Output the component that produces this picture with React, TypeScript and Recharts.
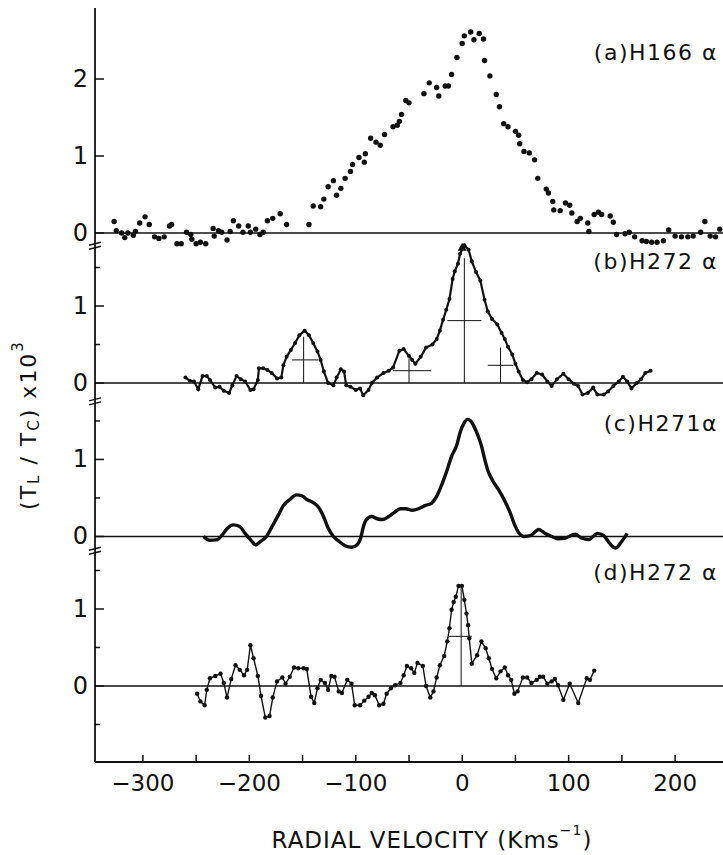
import React from 'react';
import { ComposedChart, Line, Scatter, XAxis, YAxis, ReferenceLine, ReferenceDot } from 'recharts';

const INK = '#111';
const FONT = '"DejaVu Sans", sans-serif';

// [radial velocity (km/s), T_L/T_C x 10^3]
const h166a: [number, number][] = [
  [-327, 0.15], [-325, 0.03], [-320, 0.0], [-317, -0.06], [-314, 0.0], [-309, -0.03], [-307, 0.02],
  [-303, 0.13], [-298, 0.21], [-294, 0.11], [-289, -0.05], [-285, -0.07], [-280, -0.05], [-275, 0.09],
  [-273, 0.11], [-268, -0.14], [-264, -0.14], [-259, 0.01], [-255, -0.02], [-254, -0.08], [-250, -0.14],
  [-246, -0.12], [-241, -0.14], [-234, 0.06], [-233, -0.04], [-229, 0.03], [-226, 0.01], [-221, -0.09],
  [-218, 0.02], [-215, 0.16], [-210, 0.09], [-206, 0.01], [-201, 0.09], [-199, 0.01], [-194, 0.05],
  [-190, -0.02], [-187, 0.01], [-183, 0.16], [-178, 0.19], [-171, 0.25], [-165, 0.11], [-144, 0.11],
  [-140, 0.35], [-133, 0.34], [-130, 0.44], [-126, 0.6], [-121, 0.68], [-118, 0.49], [-114, 0.58],
  [-110, 0.71], [-105, 0.8], [-103, 0.89], [-97, 0.98], [-92, 0.92], [-91, 1.03], [-86, 1.23],
  [-81, 1.18], [-77, 1.14], [-73, 1.28], [-65, 1.38], [-61, 1.4], [-59, 1.45], [-57, 1.54],
  [-53, 1.72], [-50, 1.69], [-36, 1.81], [-31, 1.95], [-24, 1.89], [-22, 1.78], [-16, 1.91],
  [-13, 1.91], [-10, 2.06], [-5, 2.28], [0, 2.46], [2, 2.56], [8, 2.61], [11, 2.51], [16, 2.59],
  [20, 2.52], [21, 2.24], [26, 2.04], [32, 1.8], [35, 1.64], [39, 1.42], [43, 1.38], [50, 1.32],
  [53, 1.27], [54, 1.16], [58, 1.06], [63, 1.04], [68, 0.95], [71, 0.71], [79, 0.57], [81, 0.52],
  [85, 0.41], [86, 0.3], [92, 0.29], [97, 0.39], [101, 0.36], [103, 0.26], [108, 0.15], [111, 0.19],
  [118, 0.13], [119, 0.02], [124, 0.24], [128, 0.27], [131, 0.24], [139, 0.22], [142, 0.14],
  [145, -0.02], [153, -0.01], [157, 0.01], [162, -0.05], [169, -0.1], [173, -0.11], [178, -0.12],
  [183, -0.12], [189, -0.1], [194, 0.04], [200, -0.04], [206, -0.05], [212, -0.05], [217, -0.04],
  [224, 0.01], [228, 0.15], [233, -0.04], [238, -0.05], [242, 0.05],
];

const h272b: [number, number][] = [
  [-260, 0.07], [-256, 0.03], [-252, 0.02], [-248, -0.08], [-244, 0.09], [-240, 0.09], [-237, 0.04],
  [-232, -0.06], [-228, -0.05], [-224, -0.1], [-219, -0.13], [-216, -0.03], [-212, 0.09], [-208, 0.05],
  [-204, 0.02], [-199, -0.09], [-196, -0.08], [-192, 0.04], [-191, 0.19], [-187, 0.19], [-183, 0.17],
  [-179, 0.13], [-174, 0.06], [-170, 0.07], [-168, 0.23], [-165, 0.34], [-161, 0.43], [-157, 0.52],
  [-153, 0.62], [-148, 0.68], [-144, 0.62], [-140, 0.52], [-136, 0.41], [-133, 0.3], [-130, 0.15],
  [-126, 0.0], [-121, -0.03], [-118, 0.07], [-114, 0.18], [-111, 0.15], [-109, -0.03], [-105, -0.05],
  [-100, -0.09], [-96, -0.07], [-93, -0.16], [-88, -0.09], [-85, 0.0], [-80, 0.07], [-74, 0.13],
  [-69, 0.16], [-65, 0.2], [-59, 0.42], [-55, 0.44], [-50, 0.35], [-47, 0.3], [-44, 0.25], [-39, 0.34],
  [-34, 0.46], [-28, 0.5], [-24, 0.57], [-21, 0.68], [-18, 0.82], [-15, 0.95], [-12, 1.09], [-9, 1.35],
  [-7, 1.45], [-4, 1.55], [-2, 1.68], [2, 1.79], [6, 1.73], [9, 1.58], [13, 1.44], [17, 1.33],
  [21, 1.08], [24, 0.93], [28, 0.83], [33, 0.76], [37, 0.65], [40, 0.57], [43, 0.47], [47, 0.37],
  [50, 0.25], [53, 0.15], [57, 0.04], [61, 0.01], [65, 0.05], [70, 0.13], [75, 0.11], [80, 0.02],
  [84, -0.04], [89, 0.05], [95, 0.12], [100, 0.05], [105, -0.01], [109, -0.04], [113, -0.15],
  [118, -0.13], [123, -0.06], [127, -0.15], [133, -0.15], [137, -0.11], [142, -0.04], [147, 0.02],
  [151, 0.08], [155, 0.02], [159, -0.07], [164, 0.0], [168, 0.05], [172, 0.13], [177, 0.16],
];

const h271c: [number, number][] = [
  [-243, 0.0], [-237, -0.05], [-230, -0.04], [-226, 0.01], [-221, 0.1], [-215, 0.15], [-209, 0.13],
  [-204, 0.04], [-199, -0.04], [-194, -0.11], [-190, -0.07], [-184, 0.0], [-179, 0.12], [-173, 0.27],
  [-168, 0.4], [-162, 0.48], [-156, 0.54], [-151, 0.53], [-146, 0.48], [-140, 0.44], [-135, 0.38],
  [-130, 0.25], [-126, 0.11], [-121, 0.0], [-116, -0.06], [-110, -0.12], [-104, -0.14], [-99, -0.11],
  [-95, 0.0], [-93, 0.12], [-90, 0.22], [-85, 0.26], [-80, 0.23], [-75, 0.22], [-69, 0.26], [-64, 0.31],
  [-58, 0.36], [-53, 0.36], [-47, 0.34], [-41, 0.36], [-35, 0.4], [-29, 0.43], [-24, 0.52], [-19, 0.68],
  [-14, 0.87], [-10, 1.04], [-5, 1.19], [-2, 1.35], [2, 1.48], [5, 1.52], [8, 1.5], [11, 1.43],
  [14, 1.34], [18, 1.18], [21, 1.01], [24, 0.86], [28, 0.74], [34, 0.61], [40, 0.46], [45, 0.31],
  [49, 0.16], [53, 0.05], [58, 0.0], [64, 0.01], [72, 0.09], [78, 0.04], [84, 0.0], [90, -0.03],
  [97, -0.02], [106, 0.03], [112, -0.02], [119, -0.04], [127, 0.04], [133, 0.01], [138, -0.08],
  [144, -0.15], [149, -0.08], [155, 0.04],
];

const h272d: [number, number][] = [
  [-249, -0.1], [-246, -0.2], [-242, -0.25], [-240, -0.05], [-237, 0.1], [-232, 0.13], [-227, 0.16],
  [-224, 0.04], [-221, -0.15], [-217, 0.09], [-213, 0.27], [-209, 0.21], [-205, 0.14], [-202, 0.21],
  [-199, 0.53], [-196, 0.36], [-192, 0.13], [-189, -0.13], [-185, -0.41], [-181, -0.39], [-178, -0.15],
  [-174, 0.06], [-169, 0.11], [-166, 0.03], [-162, 0.12], [-158, 0.24], [-154, 0.23], [-149, 0.23],
  [-146, 0.22], [-142, -0.14], [-139, -0.22], [-136, -0.03], [-133, 0.08], [-129, 0.04], [-126, -0.05],
  [-123, 0.13], [-120, 0.12], [-116, -0.07], [-113, -0.09], [-108, 0.08], [-104, 0.03], [-101, -0.25],
  [-96, -0.25], [-92, -0.19], [-88, -0.14], [-85, -0.09], [-82, -0.12], [-78, -0.25], [-74, -0.23],
  [-71, -0.1], [-67, -0.03], [-63, 0.01], [-58, 0.04], [-55, 0.14], [-52, 0.26], [-48, 0.23],
  [-45, 0.17], [-42, 0.3], [-37, 0.26], [-34, 0.0], [-30, -0.15], [-27, -0.07], [-24, 0.11],
  [-21, 0.27], [-17, 0.39], [-14, 0.58], [-12, 0.75], [-10, 0.99], [-8, 1.09], [-6, 1.16],
  [-3.5, 1.3], [-0.3, 1.3], [2, 1.12], [4, 0.94], [5.5, 0.79], [6.6, 0.62], [9, 0.29], [14, 0.4],
  [18, 0.58], [22, 0.49], [25, 0.36], [28, 0.22], [32, 0.1], [36, 0.19], [40, 0.24], [43, 0.14],
  [46, 0.08], [49, -0.1], [52, -0.07], [57, 0.11], [61, 0.11], [65, 0.04], [70, 0.08], [73, 0.12],
  [76, 0.12], [80, 0.03], [84, 0.06], [87, 0.09], [90, 0.01], [95, -0.18], [101, 0.03], [109, -0.22],
  [117, 0.1], [120, 0.08], [124, 0.2],
];

// gaussian components: centre, peak height, half-power extent
const fitsB = [
  { v: -149, peak: 0.6, from: -160, to: -135 },
  { v: -50, peak: 0.32, from: -65, to: -29 },
  { v: 2, peak: 1.62, from: -14, to: 18 },
  { v: 36, peak: 0.46, from: 24, to: 48 },
];
const fitsD = [{ v: -1, peak: 1.29, from: -13, to: 9 }];

const ticksA = [0, 1, 2];
const ticksB = [0, 0.5, 1, 1.5];
const ticksC = [0, 0.5, 1, 1.5];
const ticksD = [-0.5, 0, 0.5, 1, 1.5];
const xTicks = [-300, -250, -200, -150, -100, -50, 0, 50, 100, 150, 200];

// panels are stacked on one value axis; base = where each panel's zero sits
const BASE = { a: 5.883, b: 3.935, c: 1.942, d: 0 };
const axisBreaks = [5.71, 3.69, 1.75];

const rows = (pts: [number, number][], base: number) => pts.map(([v, t]) => ({ v, y: t + base }));

const yTickList = [
  ...([['a', ticksA], ['b', ticksB], ['c', ticksC], ['d', ticksD]] as [keyof typeof BASE, number[]][]).flatMap(
    ([p, ts]) => ts.map((t) => ({ value: BASE[p] + t, label: String(t), kind: Number.isInteger(t) ? 'major' : 'minor' }))
  ),
  ...axisBreaks.map((b) => ({ value: b, label: '', kind: 'break' })),
];

const YTick = ({ x, y, payload }: any) => {
  const t = yTickList.find((k) => Math.abs(k.value - payload.value) < 1e-6);
  if (!t) return null;
  if (t.kind === 'break') {
    return (
      <g stroke={INK} strokeWidth={1.5}>
        <line x1={x - 6} y1={y - 1} x2={x + 6} y2={y - 4} />
        <line x1={x - 6} y1={y + 3} x2={x + 6} y2={y} />
      </g>
    );
  }
  const major = t.kind === 'major';
  return (
    <g>
      <line x1={x} y1={y} x2={x + (major ? 9 : 5)} y2={y} stroke={INK} strokeWidth={1.5} />
      {major && (
        <text x={x - 7} y={y} textAnchor="end" dominantBaseline="central" fontSize={24} fontFamily={FONT} fill={INK}>
          {t.label}
        </text>
      )}
    </g>
  );
};

const XTick = ({ x, y, payload }: any) => {
  const v = payload.value as number;
  return (
    <g>
      <line x1={x} y1={y} x2={x} y2={y - 7} stroke={INK} strokeWidth={1.5} />
      {v % 100 === 0 && (
        <text x={x} y={y + 21} textAnchor="middle" dominantBaseline="central" fontSize={23} fontFamily={FONT} fill={INK}>
          {v < 0 ? `\u2212${-v}` : String(v)}
        </text>
      )}
    </g>
  );
};

const Dot = (p: any) => <circle cx={p.cx} cy={p.cy} r={2.7} fill={INK} />;

const Marker = (p: any) => (
  <path d={`M${p.cx - 4.5},${p.cy + 4} L${p.cx + 4.5},${p.cy + 4} L${p.cx},${p.cy - 4} Z`} fill={INK} />
);

const fitLines = (fits: typeof fitsB, base: number, key: string) =>
  fits.flatMap((f, i) => [
    <ReferenceLine
      key={`${key}v${i}`}
      segment={[{ x: f.v, y: base }, { x: f.v, y: base + f.peak }]}
      stroke={INK}
      strokeWidth={1}
    />,
    <ReferenceLine
      key={`${key}h${i}`}
      segment={[{ x: f.from, y: base + f.peak / 2 }, { x: f.to, y: base + f.peak / 2 }]}
      stroke={INK}
      strokeWidth={1}
    />,
  ]);

const panelLabels = [
  { text: '(a)H166 α', y: 52 },
  { text: '(b)H272 α', y: 261 },
  { text: '(c)H271α', y: 423 },
  { text: '(d)H272 α', y: 572 },
];

export default function App() {
  return (
    <div style={{ position: 'absolute', left: 0, top: 0, width: 723, height: 855, background: '#fff' }}>
      <ComposedChart width={723} height={855} margin={{ top: 8, right: 0, bottom: 0, left: 0 }}>
        <XAxis
          xAxisId="top"
          orientation="top"
          type="number"
          dataKey="v"
          domain={[-345, 245]}
          allowDataOverflow
          height={0}
          tick={false}
          tickLine={false}
          axisLine={{ stroke: INK, strokeWidth: 1.8 }}
        />
        <XAxis
          type="number"
          dataKey="v"
          domain={[-345, 245]}
          allowDataOverflow
          ticks={xTicks}
          interval={0}
          height={93}
          tickSize={0}
          tickMargin={0}
          tickLine={false}
          tick={<XTick />}
          axisLine={{ stroke: INK, strokeWidth: 1.8 }}
        />
        <YAxis
          type="number"
          dataKey="y"
          domain={[-0.987, 8.805]}
          allowDataOverflow
          ticks={yTickList.map((t) => t.value)}
          interval={0}
          width={95}
          tickSize={0}
          tickMargin={0}
          tickLine={false}
          tick={<YTick />}
          axisLine={{ stroke: INK, strokeWidth: 1.8 }}
        />
        {[BASE.a, BASE.b, BASE.c, BASE.d].map((b) => (
          <ReferenceLine key={b} y={b} stroke={INK} strokeWidth={1.6} />
        ))}
        {fitLines(fitsB, BASE.b, 'b')}
        {fitLines(fitsD, BASE.d, 'd')}
        <ReferenceDot x={0} y={BASE.a - 0.18} shape={Marker} />
        <Scatter data={rows(h166a, BASE.a)} dataKey="y" shape={Dot} isAnimationActive={false} />
        <Line
          data={rows(h272b, BASE.b)}
          dataKey="y"
          type="linear"
          stroke={INK}
          strokeWidth={2.2}
          dot={{ r: 2, fill: INK, stroke: 'none' }}
          activeDot={false}
          isAnimationActive={false}
        />
        <Line
          data={rows(h271c, BASE.c)}
          dataKey="y"
          type="monotone"
          stroke={INK}
          strokeWidth={3.4}
          dot={false}
          activeDot={false}
          isAnimationActive={false}
        />
        <Line
          data={rows(h272d, BASE.d)}
          dataKey="y"
          type="linear"
          stroke={INK}
          strokeWidth={1.4}
          dot={{ r: 2.2, fill: INK, stroke: 'none' }}
          activeDot={false}
          isAnimationActive={false}
        />
      </ComposedChart>
      <svg
        width={723}
        height={855}
        style={{ position: 'absolute', left: 0, top: 0, pointerEvents: 'none' }}
        fontFamily={FONT}
        fill={INK}
      >
        {panelLabels.map((l) => (
          <text key={l.text} x={718} y={l.y} textAnchor="end" dominantBaseline="central" fontSize={22} letterSpacing={1.5}>
            {l.text}
          </text>
        ))}
        <text
          x={432}
          y={840}
          textAnchor="middle"
          dominantBaseline="central"
          fontSize={23}
          letterSpacing={1}
        >
          RADIAL VELOCITY (Kms
          <tspan fontSize={14} dy={-10}>
            {'\u22121'}
          </tspan>
          <tspan dy={10}>)</tspan>
        </text>
        <text
          x={28}
          y={425}
          transform="rotate(-90 28 425)"
          textAnchor="middle"
          dominantBaseline="central"
          fontSize={22}
          letterSpacing={2}
        >
          (T
          <tspan fontSize={15} dy={6}>L</tspan>
          <tspan dy={-6}> / T</tspan>
          <tspan fontSize={15} dy={6}>C</tspan>
          <tspan dy={-6}>) x10</tspan>
          <tspan fontSize={15} dy={-10}>3</tspan>
        </text>
      </svg>
    </div>
  );
}
